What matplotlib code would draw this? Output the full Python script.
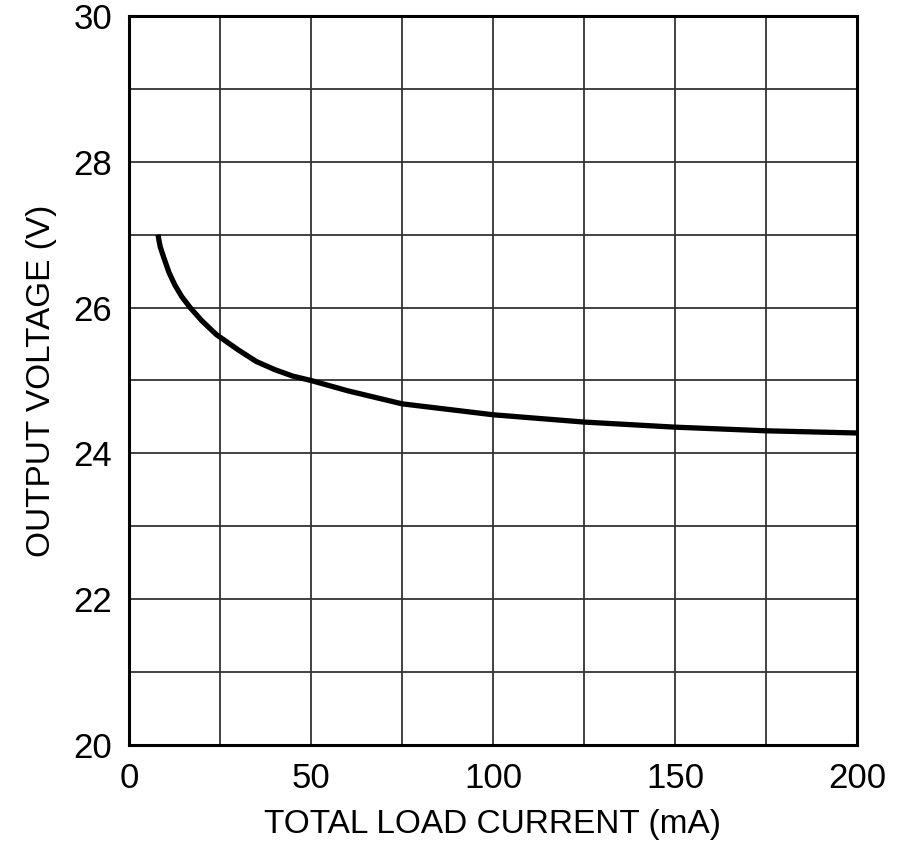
import matplotlib
matplotlib.use("Agg")
import matplotlib.pyplot as plt
import numpy as np

current_ma = [8, 8.2, 8.6, 9.6, 11, 12.6, 14.5, 16.8, 20, 24, 30, 35, 40, 45, 50, 60, 75, 100, 125, 150, 175, 200]
voltage_v = [27.0, 26.93, 26.83, 26.68, 26.48, 26.31, 26.15, 26.0, 25.82, 25.63, 25.42, 25.26, 25.15, 25.06, 25.0, 24.86, 24.68, 24.53, 24.43, 24.36, 24.31, 24.28]

xtick_labels = ['0', '', '50', '', '100', '', '150', '', '200']
ytick_labels = ['20', '', '22', '', '24', '', '26', '', '28', '', '30']

plt.rcParams['font.family'] = ['Liberation Sans', 'DejaVu Sans']

fig = plt.figure(figsize=(9, 8.63), dpi=100)
ax = fig.add_axes([129/900, 1-745/863, (857-129)/900, (745-16)/863])

ax.plot(current_ma, voltage_v, color='black', lw=3.8, solid_capstyle='butt',
        solid_joinstyle='round')
ax.set_xlim(0, 200)
ax.set_ylim(20, 30)
ax.set_xticks(np.arange(0, 201, 25))
ax.set_xticklabels(xtick_labels)
ax.set_yticks(np.arange(20, 30.1, 1))
ax.set_yticklabels(ytick_labels)
ax.grid(True, color='#333333', lw=1.3)
ax.tick_params(length=0, labelsize=25, pad=12)
for s in ax.spines.values():
    s.set_linewidth(2.2)
    s.set_color('black')
ax.set_xlabel('TOTAL LOAD CURRENT (mA)', fontsize=24, labelpad=10)
ax.set_ylabel('OUTPUT VOLTAGE (V)', fontsize=24, labelpad=12)

fig.savefig('out.png', dpi=100)
